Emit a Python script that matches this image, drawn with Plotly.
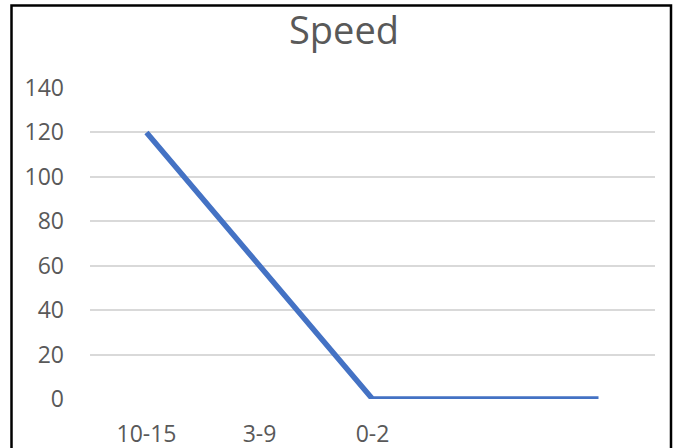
import plotly.graph_objects as go

categories = ["10-15", "3-9", "0-2", "", ""]
speed = [120, 60, 0, 0, 0]
y_ticks = [0, 20, 40, 60, 80, 100, 120, 140]

x_idx = list(range(len(categories)))

fig = go.Figure()
fig.add_trace(go.Scatter(
    x=x_idx, y=speed, mode="lines",
    line=dict(color="#4472C4", width=5.5),
    showlegend=False, hoverinfo="skip",
))

W, H = 677, 448
L, R, T, B = 90, 22, 87, 49
pw, ph = W - L - R, H - T - B

def px_x(x):
    return (x - L) / pw

def px_y(y):
    return (H - B - y) / ph

fig.update_layout(
    width=W, height=H,
    margin=dict(l=L, r=R, t=T, b=B, autoexpand=False),
    paper_bgcolor="white", plot_bgcolor="white",
    font=dict(family="Open Sans, Liberation Sans, sans-serif", color="#595959", size=23),
    title=dict(text="Speed", x=344 / W, xref="container", xanchor="center",
               y=1 - 31 / H, yref="container", yanchor="middle",
               font=dict(size=38, color="#595959")),
    xaxis=dict(range=[-0.5, len(categories) - 0.5], tickmode="array",
               tickvals=x_idx, ticktext=categories, showgrid=False,
               zeroline=False, showline=False, ticks="", ticklabelstandoff=19,
               automargin=False, fixedrange=True),
    yaxis=dict(range=[0, 140.45], tickmode="array", tickvals=y_ticks,
               showgrid=True, gridcolor="#D9D9D9", gridwidth=2,
               zeroline=False, showline=False, ticks="", ticklabelstandoff=25,
               automargin=False, fixedrange=True),
    shapes=[dict(type="rect", xref="paper", yref="paper",
                 x0=px_x(11.5), x1=px_x(671), y0=px_y(5.5), y1=px_y(455),
                 line=dict(color="black", width=2.5), fillcolor="rgba(0,0,0,0)",
                 layer="above")],
)

fig.write_html("out.html", config={"displayModeBar": False, "staticPlot": True},
               post_script="document.body.style.margin='0';document.body.style.overflow='hidden';")
